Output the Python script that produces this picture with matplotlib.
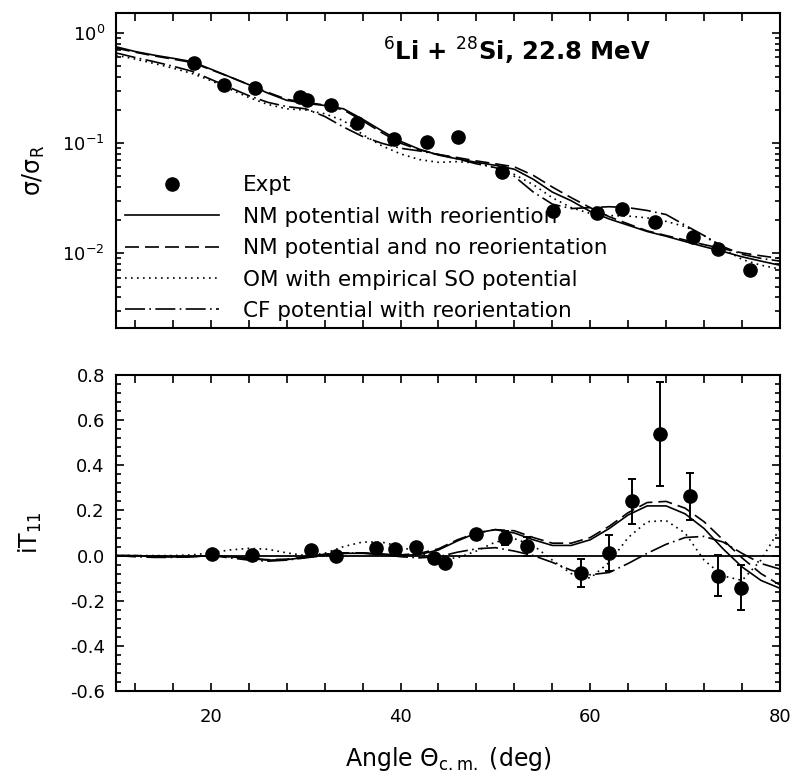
import matplotlib
matplotlib.use("Agg")
import matplotlib.pyplot as plt
from matplotlib.ticker import MultipleLocator, LogLocator, NullFormatter, FormatStrFormatter

plt.rcParams['font.family'] = ['DejaVu Sans']
plt.rcParams['mathtext.fontset'] = 'dejavusans'

# ---- measured cross sections (ratio to Rutherford) ----
theta_xs = [18.2, 21.4, 24.7, 29.4, 30.1, 32.7, 35.4, 39.3, 42.8, 46.1,
            50.7, 56.1, 60.7, 63.4, 66.8, 70.8, 73.5, 76.8]
sigma_ratio = [0.53, 0.337, 0.314, 0.264, 0.246, 0.222, 0.151, 0.110, 0.103, 0.113,
               0.0548, 0.0243, 0.0230, 0.0255, 0.0193, 0.0141, 0.0110, 0.0071]

# ---- measured vector analysing power iT11 ----
theta_it = [20.1, 24.3, 30.6, 33.2, 37.4, 39.4, 41.6, 43.5, 44.7, 48.0,
            51.0, 53.3, 59.0, 62.0, 64.4, 67.4, 70.5, 73.5, 75.9]
it11 = [0.008, 0.002, 0.023, -0.003, 0.034, 0.031, 0.038, -0.010, -0.032, 0.097,
        0.078, 0.041, -0.077, 0.012, 0.241, 0.539, 0.263, -0.089, -0.143]
it11_err = [0.005, 0.005, 0.01, 0.01, 0.01, 0.01, 0.01, 0.01, 0.01, 0.015,
            0.031, 0.043, 0.063, 0.08, 0.10, 0.23, 0.105, 0.09, 0.10]

# ---- calculations, tabulated every 2 degrees ----
theta_calc = [10, 12, 14, 16, 18, 20, 22, 24, 26, 28, 30, 32, 34, 36, 38, 40, 42, 44,
              46, 48, 50, 52, 54, 56, 58, 60, 62, 64, 66, 68, 70, 72, 74, 76, 78, 80]

xs_nm_reor = [0.75, 0.68, 0.63, 0.59, 0.55, 0.47, 0.40, 0.34, 0.285, 0.245, 0.23, 0.22,
              0.205, 0.165, 0.13, 0.104, 0.088, 0.078, 0.072, 0.067, 0.063, 0.058,
              0.047, 0.036, 0.030, 0.024, 0.0205, 0.018, 0.0158, 0.0143, 0.0128,
              0.0115, 0.0104, 0.0093, 0.0085, 0.0078]
xs_nm_noreor = [0.73, 0.67, 0.62, 0.58, 0.54, 0.465, 0.40, 0.34, 0.29, 0.25, 0.235, 0.222,
                0.20, 0.16, 0.125, 0.10, 0.087, 0.079, 0.074, 0.069, 0.065, 0.061,
                0.051, 0.040, 0.032, 0.026, 0.0215, 0.0185, 0.016, 0.0145, 0.0132,
                0.012, 0.0110, 0.0101, 0.0095, 0.0090]
xs_om_so = [0.63, 0.58, 0.53, 0.48, 0.43, 0.37, 0.31, 0.26, 0.225, 0.205, 0.20, 0.185,
            0.16, 0.12, 0.095, 0.08, 0.071, 0.067, 0.068, 0.066, 0.06, 0.052,
            0.042, 0.032, 0.026, 0.023, 0.022, 0.0218, 0.021, 0.0195, 0.0175,
            0.0145, 0.011, 0.0088, 0.0078, 0.0072]
xs_cf_reor = [0.66, 0.60, 0.55, 0.50, 0.45, 0.38, 0.32, 0.27, 0.235, 0.215, 0.205, 0.175,
              0.14, 0.115, 0.10, 0.09, 0.085, 0.079, 0.072, 0.065, 0.06, 0.050,
              0.036, 0.028, 0.0255, 0.026, 0.0265, 0.026, 0.0245, 0.0225, 0.018,
              0.0145, 0.0115, 0.0098, 0.0090, 0.0085]

it_nm_reor = [0.0, 0.0, -0.003, -0.006, -0.005, 0.0, -0.005, -0.013, -0.02, -0.018,
              -0.008, 0.005, 0.01, 0.01, 0.005, 0.0, 0.005, 0.025, 0.065, 0.10, 0.115,
              0.10, 0.07, 0.045, 0.045, 0.07, 0.12, 0.18, 0.22, 0.22, 0.185, 0.12,
              0.03, -0.05, -0.11, -0.145]
it_nm_noreor = [0.0, 0.0, -0.003, -0.006, -0.005, 0.0, -0.005, -0.012, -0.018, -0.016,
                -0.006, 0.006, 0.012, 0.012, 0.007, 0.003, 0.01, 0.03, 0.07, 0.10, 0.115,
                0.11, 0.08, 0.055, 0.055, 0.08, 0.13, 0.19, 0.235, 0.24, 0.21, 0.15,
                0.07, -0.01, -0.08, -0.13]
it_om_so = [0.0, 0.0, 0.0, 0.0, 0.003, 0.012, 0.025, 0.032, 0.028, 0.012, 0.0, 0.01,
            0.04, 0.06, 0.06, 0.04, 0.01, -0.015, -0.01, 0.02, 0.06, 0.075, 0.045,
            -0.02, -0.08, -0.10, -0.03, 0.08, 0.15, 0.155, 0.10, -0.02, -0.09,
            -0.11, -0.02, 0.12]
it_cf_reor = [0.0, -0.005, -0.008, -0.008, -0.005, 0.0, -0.01, -0.02, -0.025, -0.02,
              -0.01, 0.0, 0.01, 0.012, 0.005, -0.005, -0.01, -0.005, 0.015, 0.03, 0.035,
              0.02, 0.0, -0.03, -0.065, -0.085, -0.075, -0.035, 0.01, 0.05, 0.08,
              0.085, 0.06, 0.01, -0.035, -0.06]

labels = ["Expt",
          "NM potential with reoriention",
          "NM potential and no reorientation",
          "OM with empirical SO potential",
          "CF potential with reorientation"]

styles = [dict(ls='-'),
          dict(ls=(0, (8.4, 3.6))),
          dict(ls=(0, (1.0, 2.6))),
          dict(ls=(0, (12, 2.6, 1.0, 2.6)))]
lw_curve = 1.2

fig = plt.figure(figsize=(7.97, 7.78), dpi=100)
ax1 = fig.add_axes([0.1455, 0.5784, 0.8331, 0.4049])
ax2 = fig.add_axes([0.1455, 0.1118, 0.8331, 0.4062])

# ---- upper panel: cross section ----
xs_curves = [xs_nm_reor, xs_nm_noreor, xs_om_so, xs_cf_reor]
handles = []
h_pts, = ax1.plot(theta_xs, sigma_ratio, 'o', color='black', ms=9.5, zorder=5)
handles.append(h_pts)
for yv, st in zip(xs_curves, styles):
    h, = ax1.plot(theta_calc, yv, color='black', lw=lw_curve, **st)
    handles.append(h)
ax1.set_yscale('log')
ax1.set_xlim(10, 80)
ax1.set_ylim(0.0021, 1.52)
ax1.set_ylabel("σ/σ$_\\mathrm{R}$", fontsize=17)
ax1.yaxis.set_label_coords(-0.104, 0.5)
ax1.text(0.604, 0.878, "$^{6}$Li + $^{28}$Si, 22.8 MeV", transform=ax1.transAxes,
         ha='center', va='center', fontsize=17.5, fontweight='bold')
ax1.legend(handles, labels, loc='lower left', bbox_to_anchor=(0.0, -0.005),
           frameon=False, fontsize=15.5, handlelength=4.4, handletextpad=1.1,
           labelspacing=0.53, numpoints=1, borderaxespad=0.3, borderpad=0.1)
ax1.yaxis.set_major_locator(LogLocator(base=10, numticks=10))
ax1.yaxis.set_minor_locator(LogLocator(base=10, subs=range(2, 10), numticks=20))
ax1.yaxis.set_minor_formatter(NullFormatter())
ax1.tick_params(labelbottom=False)

# ---- lower panel: analysing power ----
ax2.axhline(0.0, color='black', lw=1.3, zorder=1)
it_curves = [it_nm_reor, it_nm_noreor, it_om_so, it_cf_reor]
for yv, st in zip(it_curves, styles):
    ax2.plot(theta_calc, yv, color='black', lw=lw_curve, **st)
ax2.errorbar(theta_it, it11, yerr=it11_err, fmt='o', color='black', ms=9.5,
             elinewidth=1.4, capsize=3.2, capthick=1.4, zorder=5)
ax2.set_xlim(10, 80)
ax2.set_ylim(-0.6, 0.8)
ax2.yaxis.set_major_locator(MultipleLocator(0.2))
ax2.yaxis.set_minor_locator(MultipleLocator(0.04))
ax2.yaxis.set_major_formatter(FormatStrFormatter('%.1f'))
ax2.set_ylabel("iT$_{11}$", fontsize=17)
ax2.yaxis.set_label_coords(-0.108, 0.5)
ax2.set_xlabel("Angle Θ$_\\mathrm{c.m.}$ (deg)", fontsize=17, labelpad=14)

for ax in (ax1, ax2):
    ax.xaxis.set_major_locator(MultipleLocator(20))
    ax.xaxis.set_minor_locator(MultipleLocator(4))
    for sp in ax.spines.values():
        sp.set_linewidth(1.5)
    ax.tick_params(which='both', direction='in', top=True, right=True, width=1.2)
    ax.tick_params(which='major', length=6, labelsize=13, pad=8)
    ax.tick_params(which='minor', length=3.5)
    ax.tick_params(axis='x', which='minor', length=6)
    ax.tick_params(axis='x', which='major', pad=12)

fig.savefig("out.png", dpi=100)
